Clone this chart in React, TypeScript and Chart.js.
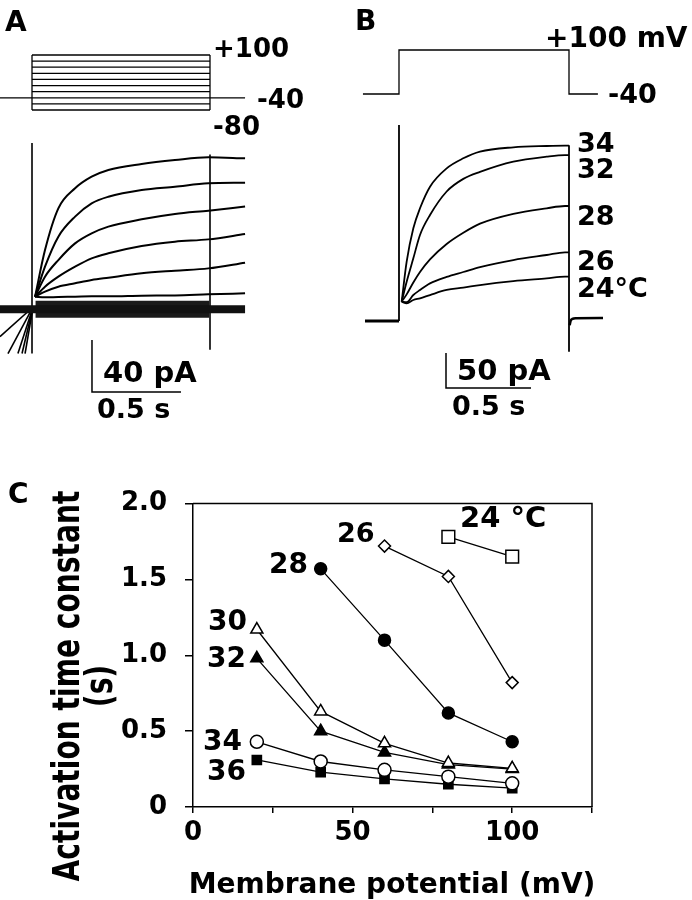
import React, { useEffect, useRef } from 'react';
import { Chart, registerables } from 'chart.js';
Chart.register(...registerables);

const FAMILY = '"DejaVu Sans", sans-serif';

// ---------------- Panel A (voltage family, currents) ----------------
const A_STEPS_MV = [-80, -60, -40, -20, 0, 20, 40, 60, 80, 100];
const A_HOLD_MV = -40;
const A_TIME_S = [0.017, 0.073, 0.148, 0.242, 0.335, 0.429, 0.616, 0.803, 0.991, 1.197];
const A_I_P100 = [8.7, 44.6, 76.7, 92.1, 101.0, 106.2, 110.8, 113.8, 115.9, 115.1];
const A_I_P80 = [8.7, 31.8, 54.9, 70.3, 80.5, 85.6, 90.8, 93.3, 95.9, 96.4];
const A_I_P60 = [8.7, 24.1, 36.9, 49.7, 57.4, 62.6, 68.2, 72.3, 74.9, 78.0];
const A_I_P40 = [8.7, 16.4, 24.1, 31.8, 38.2, 42.1, 47.7, 51.0, 52.8, 56.9];
const A_I_P20 = [8.7, 12.6, 16.4, 19.0, 21.5, 23.3, 26.7, 28.7, 30.5, 34.9];
const A_I_P0 = [8.7, 8.2, 8.5, 8.7, 9.0, 9.0, 9.5, 9.7, 10.5, 11.3];
const A_FAN_END_T = [-0.18, -0.135, -0.079, -0.056, -0.039];
const A_FAN_END_I = [-22, -35, -35, -35, -35];
const A_SPIKE_ON_I = [127, -35];
const A_SPIKE_OFF_I = [118, -32];
const A_BAR = { t: 0.337, i: -64.6, dt: 0.5, di: 40 };

// ---------------- Panel B (temperature series at +100 mV) ----------------
const B_HOLD_MV = -40;
const B_STEP_MV = 100;
const B_TIME_S = [0.0157, 0.0451, 0.0843, 0.1235, 0.1824, 0.2804, 0.3784, 0.4765, 0.6725, 0.8686, 0.9765, 1.0];
const B_I_34 = [27.6, 84.8, 132.4, 161, 191.9, 218.1, 232.4, 241.9, 248.1, 250, 250.5, 250.5];
const B_I_32 = [27.6, 56.2, 89.5, 122.9, 151.4, 185, 203, 213, 227.6, 234.8, 237.1, 237.1];
const B_I_28 = [27.6, 38, 55, 70, 88, 110, 126, 139, 153, 161, 164.3, 164.3];
const B_I_26 = [27.6, 27, 37.1, 44.3, 53.8, 63, 70, 77, 87.1, 94.3, 98.1, 98.1];
const B_I_24 = [27.6, 25.2, 30, 32.4, 37.1, 44.3, 47.6, 51.4, 57.1, 61, 63.3, 63.3];
const B_SPIKE_ON_I = [0, 280];
const B_SPIKE_OFF_I = [251, -44];
const B_TAIL_T = [1.004, 1.01, 1.02, 1.04, 1.2];
const B_TAIL_I = [-6, 0.5, 3, 4, 4.3];
const B_BAR = { t: 0.2765, i: -95.7, dt: 0.5, di: 50 };

// ---------------- Panel C (activation time constants) ----------------
const C_VOLT_MV = [20, 40, 60, 80, 100];
const C_TAU_24 = [null, null, null, 1.78, 1.65];
const C_TAU_26 = [null, null, 1.72, 1.52, 0.82];
const C_TAU_28 = [null, 1.57, 1.10, 0.62, 0.43];
const C_TAU_30 = [1.17, 0.63, 0.42, 0.29, 0.255];
const C_TAU_32 = [0.98, 0.50, 0.36, 0.28, 0.25];
const C_TAU_34 = [0.43, 0.30, 0.245, 0.20, 0.156];
const C_TAU_36 = [0.31, 0.23, 0.185, 0.15, 0.125];
const C_X_TICKS = [0, 25, 50, 75, 100, 125];
const C_X_TICK_LABELS = ['0', '', '50', '', '100', ''];
const C_Y_TICK_LABELS = ['0', '0.5', '1.0', '1.5', '2.0'];

// ---------------- text (layout) ----------------
type Lbl = { text: string; x: number; y: number; size: number; align?: CanvasTextAlign };
const A_TEXT: Lbl[] = [
  { text: 'A', x: 5, y: 31, size: 28 },
  { text: '+100', x: 213, y: 57, size: 26 },
  { text: '-40', x: 257, y: 108, size: 26 },
  { text: '-80', x: 213, y: 135, size: 26 },
  { text: '40 pA', x: 103, y: 382, size: 29 },
  { text: '0.5 s', x: 97, y: 418, size: 27 },
];
const B_TEXT: Lbl[] = [
  { text: 'B', x: 5, y: 30, size: 28 },
  { text: '+100 mV', x: 195, y: 47, size: 28 },
  { text: '-40', x: 258, y: 103, size: 27 },
  { text: '34', x: 227, y: 152, size: 27 },
  { text: '32', x: 227, y: 178, size: 27 },
  { text: '28', x: 227, y: 225, size: 27 },
  { text: '26', x: 227, y: 270, size: 27 },
  { text: '24°C', x: 227, y: 297, size: 27 },
  { text: '50 pA', x: 107, y: 380, size: 29 },
  { text: '0.5 s', x: 102, y: 415, size: 27 },
];
const C_TEXT: Lbl[] = [
  { text: 'C', x: 8, y: 33, size: 28 },
  { text: '24 °C', x: 460, y: 57, size: 29 },
  { text: '26', x: 337, y: 72, size: 27 },
  { text: '28', x: 269, y: 103, size: 28 },
  { text: '30', x: 208, y: 160, size: 28 },
  { text: '32', x: 207, y: 197, size: 28 },
  { text: '34', x: 203, y: 280, size: 28 },
  { text: '36', x: 207, y: 310, size: 28 },
  { text: 'Membrane potential (mV)', x: 392, y: 423, size: 28, align: 'center' },
];

const textPlugin = (labels: Lbl[]) => ({
  id: 'texts',
  afterDraw(chart: any) {
    const ctx = chart.ctx;
    for (const l of labels) {
      ctx.save();
      ctx.font = `bold ${l.size}px ${FAMILY}`;
      ctx.fillStyle = '#000';
      ctx.textAlign = l.align || 'left';
      ctx.textBaseline = 'alphabetic';
      ctx.fillText(l.text, l.x, l.y);
      ctx.restore();
    }
  },
});

const yTitlePlugin = {
  id: 'ytitle',
  afterDraw(chart: any) {
    const ctx = chart.ctx;
    const lines = [
      { text: 'Activation time constant', x: 79 },
      { text: '(s)', x: 112 },
    ];
    for (const ln of lines) {
      ctx.save();
      ctx.translate(ln.x, 216);
      ctx.rotate(-Math.PI / 2);
      ctx.scale(0.76, 1);
      ctx.font = `bold 37px ${FAMILY}`;
      ctx.fillStyle = '#000';
      ctx.textAlign = 'center';
      ctx.textBaseline = 'alphabetic';
      ctx.fillText(ln.text, 0, 0);
      ctx.restore();
    }
  },
};

const boxPlugin = {
  id: 'box',
  afterDraw(chart: any) {
    const { ctx, chartArea: a } = chart;
    ctx.save();
    ctx.strokeStyle = '#000';
    ctx.lineWidth = 1.5;
    ctx.beginPath();
    ctx.moveTo(a.left, a.top);
    ctx.lineTo(a.right, a.top);
    ctx.lineTo(a.right, a.bottom);
    ctx.stroke();
    ctx.restore();
  },
};

const pts = (ts: number[], vs: number[]) => ts.map((t, i) => ({ x: t, y: vs[i] }));
const seg = (data: any[], axis: string, width: number, extra: any = {}) => ({
  data,
  yAxisID: axis,
  borderColor: '#000',
  borderWidth: width,
  pointRadius: 0,
  tension: 0,
  ...extra,
});
const trace = (ts: number[], vs: number[], width: number) =>
  seg(pts(ts, vs), 'yI', width, { cubicInterpolationMode: 'monotone' });

const hidden = (min: number, max: number) => ({ type: 'linear', display: false, min, max });

const baseOptions = (scales: any) => ({
  responsive: false,
  animation: false,
  events: [],
  layout: { padding: 0 },
  plugins: { legend: { display: false }, tooltip: { enabled: false } },
  scales,
});

function buildA() {
  const ds: any[] = [];
  ds.push(seg([{ x: -0.18, y: A_HOLD_MV }, { x: 0, y: A_HOLD_MV }], 'yV', 1.3));
  ds.push(seg([{ x: 1, y: A_HOLD_MV }, { x: 1.197, y: A_HOLD_MV }], 'yV', 1.3));
  for (const v of A_STEPS_MV) ds.push(seg([{ x: 0, y: v }, { x: 1, y: v }], 'yV', 1.3));
  const lo = Math.min(...A_STEPS_MV), hi = Math.max(...A_STEPS_MV);
  ds.push(seg([{ x: 0, y: lo }, { x: 0, y: hi }], 'yV', 1.3));
  ds.push(seg([{ x: 1, y: lo }, { x: 1, y: hi }], 'yV', 1.3));
  ds.push(seg([{ x: -0.18, y: -1 }, { x: 1.197, y: -1 }], 'yI', 8, { borderColor: '#111' }));
  ds.push(seg([{ x: 0.02, y: -1 }, { x: 0.995, y: -1 }], 'yI', 17, { borderColor: '#1a1a1a' }));
  A_FAN_END_T.forEach((t, i) => ds.push(seg([{ x: 0.006, y: 0.8 }, { x: t, y: A_FAN_END_I[i] }], 'yI', 1.6)));
  ds.push(seg([{ x: 0, y: A_SPIKE_ON_I[0] }, { x: 0, y: A_SPIKE_ON_I[1] }], 'yI', 1.6));
  ds.push(seg([{ x: 1, y: A_SPIKE_OFF_I[0] }, { x: 1, y: A_SPIKE_OFF_I[1] }], 'yI', 1.6));
  [A_I_P100, A_I_P80, A_I_P60, A_I_P40, A_I_P20, A_I_P0].forEach((arr) => ds.push(trace(A_TIME_S, arr, 2)));
  ds.push(seg([{ x: A_BAR.t, y: A_BAR.i + A_BAR.di }, { x: A_BAR.t, y: A_BAR.i }, { x: A_BAR.t + A_BAR.dt, y: A_BAR.i }], 'yI', 1.5));
  return {
    type: 'line',
    data: { datasets: ds },
    options: baseOptions({
      x: hidden(-0.1798, 1.6742),
      yI: hidden(-101.5, 236.9),
      yV: hidden(-1160, 280),
    }),
    plugins: [textPlugin(A_TEXT)],
  };
}

function buildB() {
  const ds: any[] = [];
  ds.push(
    seg(
      [
        { x: -0.212, y: B_HOLD_MV },
        { x: 0, y: B_HOLD_MV },
        { x: 0, y: B_STEP_MV },
        { x: 1, y: B_STEP_MV },
        { x: 1, y: B_HOLD_MV },
        { x: 1.17, y: B_HOLD_MV },
      ],
      'yV',
      1.3
    )
  );
  ds.push(seg([{ x: -0.2, y: 0 }, { x: 0, y: 0 }], 'yI', 3));
  ds.push(seg([{ x: 0, y: B_SPIKE_ON_I[0] }, { x: 0, y: B_SPIKE_ON_I[1] }], 'yI', 1.8));
  ds.push(seg([{ x: 1, y: B_SPIKE_OFF_I[0] }, { x: 1, y: B_SPIKE_OFF_I[1] }], 'yI', 1.8));
  ds.push(trace(B_TAIL_T, B_TAIL_I, 2.5));
  [B_I_34, B_I_32, B_I_28, B_I_26, B_I_24].forEach((arr) => ds.push(trace(B_TIME_S, arr, 1.8)));
  ds.push(seg([{ x: B_BAR.t, y: B_BAR.i + B_BAR.di }, { x: B_BAR.t, y: B_BAR.i }, { x: B_BAR.t + B_BAR.dt, y: B_BAR.i }], 'yI', 1.5));
  return {
    type: 'line',
    data: { datasets: ds },
    options: baseOptions({
      x: hidden(-0.2882, 1.7235),
      yI: hidden(-170, 458.57),
      yV: hidden(-1140.9, 259.1),
    }),
    plugins: [textPlugin(B_TEXT)],
  };
}

function buildC() {
  const series = (vals: (number | null)[], style: string, radius: number, filled: boolean) => ({
    data: C_VOLT_MV.map((v, i) => (vals[i] == null ? null : { x: v, y: vals[i] })).filter(Boolean),
    borderColor: '#000',
    borderWidth: 1.3,
    pointStyle: style,
    pointRadius: radius,
    pointBackgroundColor: filled ? '#000' : '#fff',
    pointBorderColor: '#000',
    pointBorderWidth: 1.5,
    tension: 0,
  });
  const tickFont = { family: FAMILY, size: 26, weight: 'bold' };
  return {
    type: 'line',
    data: {
      datasets: [
        series(C_TAU_24, 'rect', 9, false),
        series(C_TAU_26, 'rectRot', 6, false),
        series(C_TAU_28, 'circle', 6, true),
        series(C_TAU_30, 'triangle', 7, false),
        series(C_TAU_32, 'triangle', 7, true),
        series(C_TAU_34, 'circle', 6.5, false),
        series(C_TAU_36, 'rect', 6.5, true),
      ],
    },
    options: {
      responsive: false,
      animation: false,
      events: [],
      layout: { padding: { top: 21, right: 100, left: 0, bottom: 0 } },
      plugins: { legend: { display: false }, tooltip: { enabled: false } },
      scales: {
        x: {
          type: 'linear',
          min: 0,
          max: 125,
          afterFit: (s: any) => {
            s.height = 93;
          },
          afterBuildTicks: (s: any) => {
            s.ticks = C_X_TICKS.map((v) => ({ value: v }));
          },
          ticks: {
            callback: (v: number) => C_X_TICK_LABELS[C_X_TICKS.indexOf(v)] ?? '',
            font: tickFont,
            color: '#000',
            padding: 5,
            maxRotation: 0,
            autoSkip: false,
          },
          grid: { display: true, drawOnChartArea: false, drawTicks: true, tickLength: 6, color: '#000', lineWidth: 1.5 },
          border: { display: true, color: '#000', width: 1.5 },
        },
        y: {
          type: 'linear',
          min: 0,
          max: 2,
          afterFit: (s: any) => {
            s.width = 193;
          },
          ticks: {
            stepSize: 0.5,
            callback: (v: number) => C_Y_TICK_LABELS[Math.round(v / 0.5)] ?? '',
            font: tickFont,
            color: '#000',
            padding: 18,
          },
          grid: { display: true, drawOnChartArea: false, drawTicks: true, tickLength: 8, color: '#000', lineWidth: 1.5 },
          border: { display: true, color: '#000', width: 1.5 },
        },
      },
    },
    plugins: [boxPlugin, yTitlePlugin, textPlugin(C_TEXT)],
  };
}

function ChartCanvas({ left, top, width, height, build }: any) {
  const ref = useRef<HTMLCanvasElement | null>(null);
  useEffect(() => {
    const chart = new Chart(ref.current as any, build() as any);
    return () => chart.destroy();
  }, []);
  return (
    <canvas
      ref={ref}
      width={width}
      height={height}
      style={{ position: 'absolute', left, top, width, height, display: 'block' }}
    />
  );
}

export default function App() {
  return (
    <div style={{ position: 'absolute', left: 0, top: 0, width: 692, height: 900, background: '#fff', overflow: 'hidden' }}>
      <ChartCanvas left={0} top={0} width={330} height={440} build={buildA} />
      <ChartCanvas left={350} top={0} width={342} height={440} build={buildB} />
      <ChartCanvas left={0} top={470} width={692} height={430} build={buildC} />
    </div>
  );
}
